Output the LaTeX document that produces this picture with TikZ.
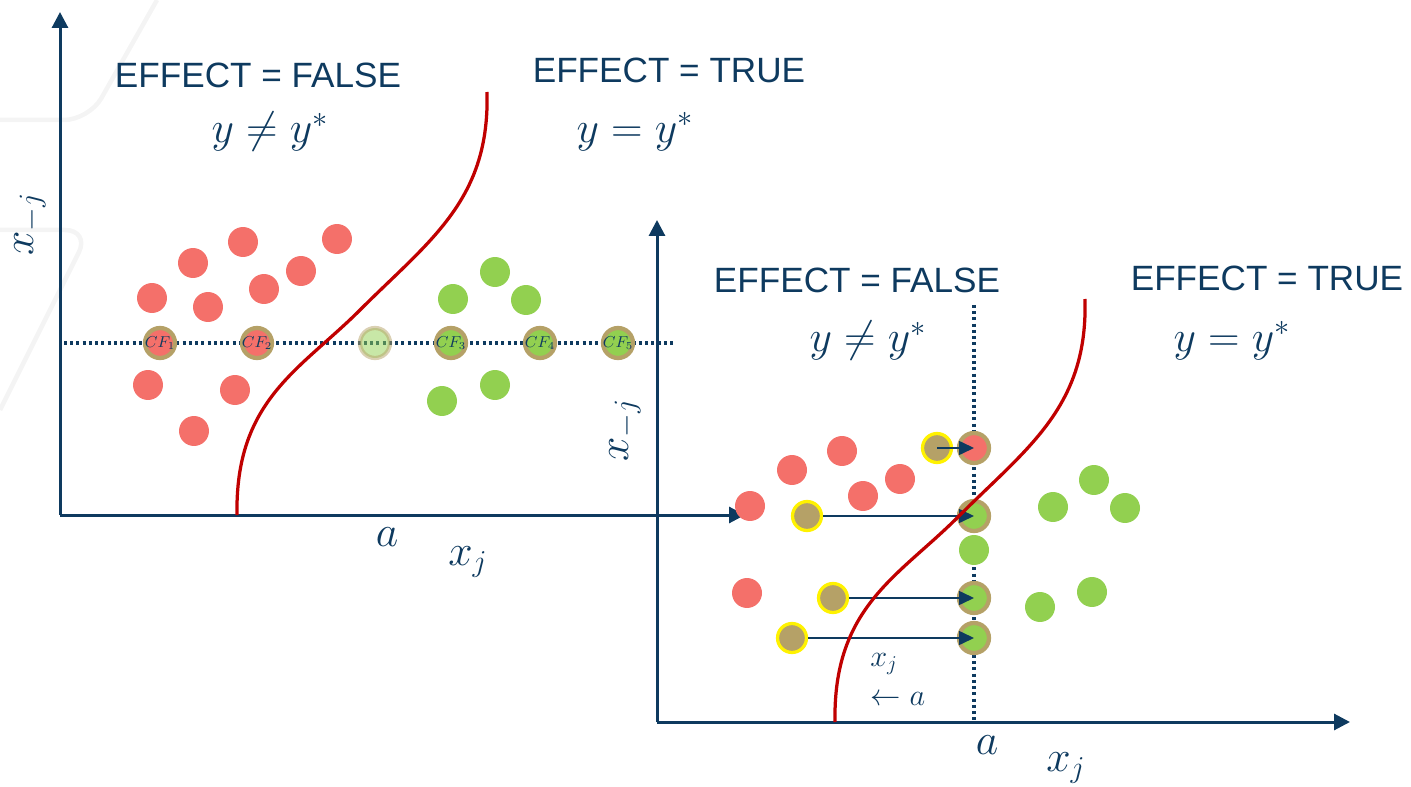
\documentclass[tikz,border=0pt]{standalone}
\usepackage{amsmath}
\usepackage{fontspec}
\setmainfont{Liberation Sans}
\usetikzlibrary{
    arrows.meta,
    positioning,
    calc,
}
\definecolor{axisnavy}{HTML}{0E3A5F}
\definecolor{dotred}{HTML}{F4706A}
\definecolor{dotgreen}{HTML}{92D050}
\definecolor{ringtan}{HTML}{B5A167}
\definecolor{ringyellow}{HTML}{FFF200}
\definecolor{boundred}{HTML}{C00000}
\definecolor{slidegray}{HTML}{F4F4F4}

\begin{document}
\begin{tikzpicture}[
    x=0.02cm, y=-0.02cm,
    axis/.style    = {-{Triangle[length=0.32cm,width=0.32cm]}, axisnavy, line width=0.06cm},
    dotline/.style = {axisnavy, line width=0.075cm, dash pattern=on 0.06cm off 0.065cm},
    bound/.style   = {boundred, line width=0.065cm},
    bgline/.style  = {slidegray, line width=0.09cm, rounded corners=0.5cm},
    dot/.style     = {circle, inner sep=0pt, minimum size=0.6cm},
    rdot/.style    = {dot, fill=dotred},
    gdot/.style    = {dot, fill=dotgreen},
    cf/.style      = {dot, draw=ringtan, line width=0.085cm},
    rcf/.style     = {cf, fill=dotred},
    gcf/.style     = {cf, fill=dotgreen},
    cflbl/.style   = {text=axisnavy, font=\fontsize{9}{10}\selectfont, inner sep=0pt},
    src/.style     = {dot, minimum size=0.58cm, fill=ringtan,
                      draw=ringyellow, line width=0.065cm},
    title/.style   = {text=axisnavy, font=\fontsize{20}{24}\selectfont},
    lbl/.style     = {text=axisnavy, font=\fontsize{23}{26}\selectfont},
    slbl/.style    = {text=axisnavy, font=\fontsize{18}{21}\selectfont},
    arr/.style     = {-{Triangle[length=0.3cm,width=0.28cm]}, axisnavy, line width=0.9pt},
]
\useasboundingbox (0,0) rectangle (1411,787);

%% ── Slide background strokes ────────────────────────────────────────────────
\draw[bgline] (157,0) -- (89,120) -- (0,120);
\draw[bgline] (0,230) -- (90,230) -- (0,410);

%% ── Left panel: axes ─────────────────────────────────────────────────────────
\coordinate (o1) at (60,515);
\coordinate (y1) at (60,12);
\coordinate (x1) at (745,515);
\draw[axis] (o1) -- (y1);
\draw[axis] (o1) -- (x1);
\coordinate (h1) at (64,343);
\coordinate (h2) at (676,343);
\draw[dotline] (h1) -- (h2);

\node[lbl, rotate=90] (xmj1) at (30,224) {$x_{-j}$};
\node[lbl] (a1)  at (387,537) {$a$};
\node[lbl] (xj1) at (468,562) {$x_j$};

\node[title] (effF1) at (258,75)  {EFFECT = FALSE};
\node[lbl]   (neq1)  at (270,132) {$y \neq y^{*}$};
\node[title] (effT1) at (669,70)  {EFFECT = TRUE};
\node[lbl]   (eq1)   at (635,132) {$y = y^{*}$};

%% ── Left panel: points ───────────────────────────────────────────────────────
\node[rdot] (lr1)  at (243,242) {};
\node[rdot] (lr2)  at (193,263) {};
\node[rdot] (lr3)  at (337,239) {};
\node[rdot] (lr4)  at (301,271) {};
\node[rdot] (lr5)  at (264,289) {};
\node[rdot] (lr6)  at (152,298) {};
\node[rdot] (lr7)  at (208,307) {};
\node[rdot] (lr8)  at (148,385) {};
\node[rdot] (lr9)  at (235,390) {};
\node[rdot] (lr10) at (194,431) {};

\node[gdot] (lg1) at (495,272) {};
\node[gdot] (lg2) at (453,299) {};
\node[gdot] (lg3) at (526,300) {};
\node[gdot] (lg4) at (495,385) {};
\node[gdot] (lg5) at (442,401) {};

%% ── Counterfactuals on the dotted line ──────────────────────────────────────
\node[rcf] (cf1) at (160,343) {};
\node[rcf] (cf2) at (257,343) {};
\node[gcf, opacity=0.5] (cf0) at (375,343) {};
\node[gcf] (cf3) at (451,343) {};
\node[gcf] (cf4) at (540,343) {};
\node[gcf] (cf5) at (618,343) {};
\node[cflbl] (cf1t) at (cf1) {$CF_1$};
\node[cflbl] (cf2t) at (cf2) {$CF_2$};
\node[cflbl] (cf3t) at (cf3) {$CF_3$};
\node[cflbl] (cf4t) at (cf4) {$CF_4$};
\node[cflbl] (cf5t) at (cf5) {$CF_5$};

%% ── Left panel: decision boundary ───────────────────────────────────────────
\draw[bound] (237,515) .. controls (235,400) and (300,370) .. (360,310)
             .. controls (430,240) and (490,200) .. (487,92);

%% ── Right panel: axes ────────────────────────────────────────────────────────
\coordinate (o2) at (657,722);
\coordinate (y2) at (657,220);
\coordinate (x2) at (1350,722);
\draw[axis] (o2) -- (y2);
\draw[axis] (o2) -- (x2);
\coordinate (v1) at (974,305);
\coordinate (v2) at (974,720);
\draw[dotline] (v1) -- (v2);

\node[lbl, rotate=90] (xmj2) at (625,430) {$x_{-j}$};
\node[lbl]  (a2)  at (987,745)  {$a$};
\node[lbl]  (xj2) at (1066,768) {$x_j$};
\node[slbl] (xj3) at (884,664)  {$x_j$};
\node[slbl] (la)  at (898,699)  {$\leftarrow a$};

\node[title] (effF2) at (857,280)  {EFFECT = FALSE};
\node[lbl]   (neq2)  at (868,341)  {$y \neq y^{*}$};
\node[title] (effT2) at (1267,278) {EFFECT = TRUE};
\node[lbl]   (eq2)   at (1232,341) {$y = y^{*}$};

%% ── Right panel: points ──────────────────────────────────────────────────────
\node[rdot] (rr1) at (842,451) {};
\node[rdot] (rr2) at (792,470) {};
\node[rdot] (rr3) at (900,479) {};
\node[rdot] (rr4) at (863,496) {};
\node[rdot] (rr5) at (750,506) {};
\node[rdot] (rr6) at (747,593) {};

\node[gdot] (rg1) at (1094,480) {};
\node[gdot] (rg2) at (1125,508) {};
\node[gdot] (rg3) at (1053,507) {};
\node[gdot] (rg4) at (1092,592) {};
\node[gdot] (rg5) at (1040,607) {};
\node[gdot] (rg6) at (974,550)  {};

%% ── Intervention x_j <- a: sources and targets ─────────────────────────────
\node[src] (s1) at (937,448) {};
\node[src] (s2) at (807,516) {};
\node[src] (s3) at (833,598) {};
\node[src] (s4) at (792,638) {};

\node[rcf] (t1) at (974,448) {};
\node[gcf] (t2) at (974,516) {};
\node[gcf] (t3) at (974,598) {};
\node[gcf] (t4) at (974,638) {};

\draw[arr] (s1.center) -- (t1.center);
\draw[arr] (s2.east)   -- (t2.center);
\draw[arr] (s3.east)   -- (t3.center);
\draw[arr] (s4.east)   -- (t4.center);

%% ── Right panel: decision boundary ──────────────────────────────────────────
\draw[bound] (835,722) .. controls (833,607) and (898,577) .. (958,517)
             .. controls (1028,447) and (1088,407) .. (1085,299);

\end{tikzpicture}
\end{document}
